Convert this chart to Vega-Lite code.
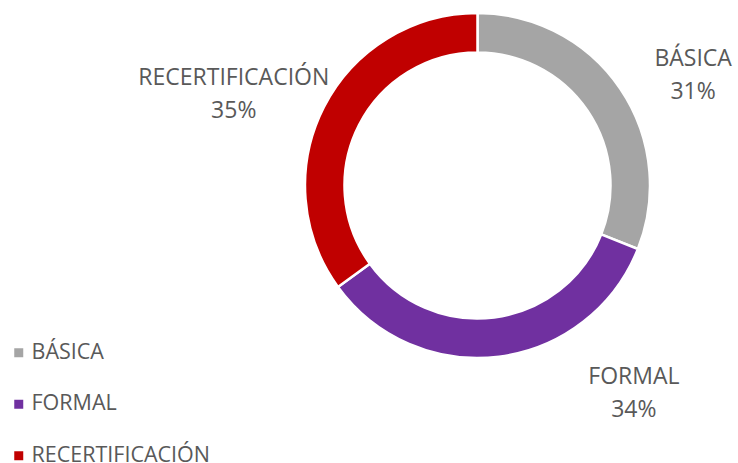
{
  "$schema": "https://vega.github.io/schema/vega-lite/v6.json",
  "width": 521,
  "height": 371,
  "autosize": {"type": "none"},
  "padding": {"left": 217, "top": 0, "right": 0, "bottom": 92},
  "background": "white",
  "config": {"view": {"stroke": null}, "font": "Open Sans"},
  "data": {"values": [
    {"category": "BÁSICA", "value": 31},
    {"category": "FORMAL", "value": 34},
    {"category": "RECERTIFICACIÓN", "value": 35}
  ]},
  "transform": [
    {"stack": "value", "groupby": [], "sort": [{"field": "category"}], "as": ["v0", "v1"]},
    {"calculate": "datum.category + '\\n' + datum.value + '%'", "as": "label"}
  ],
  "encoding": {
    "color": {
      "field": "category", "type": "nominal",
      "scale": {"domain": ["BÁSICA", "FORMAL", "RECERTIFICACIÓN"], "range": ["#A5A5A5", "#7030A0", "#C00000"]},
      "legend": {
        "orient": "none", "legendX": -209, "legendY": 342, "title": null,
        "symbolType": "square", "symbolSize": 81, "symbolStrokeWidth": 0,
        "labelFontSize": 21.5, "labelColor": "#595959", "labelFont": "Open Sans",
        "labelOffset": 2, "labelLimit": 400, "rowPadding": 28.5, "padding": 0
      }
    }
  },
  "layer": [
    {"mark": {"type": "arc", "radius": 172.5, "innerRadius": 133, "stroke": "white", "strokeWidth": 2.5},
     "encoding": {"theta": {"field": "v0", "type": "quantitative", "scale": {"domain": [0, 100]}}, "theta2": {"field": "v1"}}},
    {"transform": [{"filter": "datum.category == 'BÁSICA'"}],
     "mark": {"type": "text", "radius": 242, "thetaOffset": 1.0996, "dy": -16.5, "fontSize": 23, "lineBreak": "\n", "lineHeight": 33, "align": "center", "baseline": "middle"},
     "encoding": {"theta": {"field": "v0", "type": "quantitative"}, "text": {"field": "label"}, "color": {"value": "#595959"}}},
    {"transform": [{"filter": "datum.category == 'FORMAL'"}],
     "mark": {"type": "text", "radius": 260.5, "thetaOffset": 0.550, "dy": -16.5, "fontSize": 23, "lineBreak": "\n", "lineHeight": 33, "align": "center", "baseline": "middle"},
     "encoding": {"theta": {"field": "v0", "type": "quantitative"}, "text": {"field": "label"}, "color": {"value": "#595959"}}},
    {"transform": [{"filter": "datum.category == 'RECERTIFICACIÓN'"}],
     "mark": {"type": "text", "radius": 260, "thetaOffset": 0.984, "dy": -16.5, "fontSize": 23, "lineBreak": "\n", "lineHeight": 33, "align": "center", "baseline": "middle"},
     "encoding": {"theta": {"field": "v0", "type": "quantitative"}, "text": {"field": "label"}, "color": {"value": "#595959"}}}
  ]
}
